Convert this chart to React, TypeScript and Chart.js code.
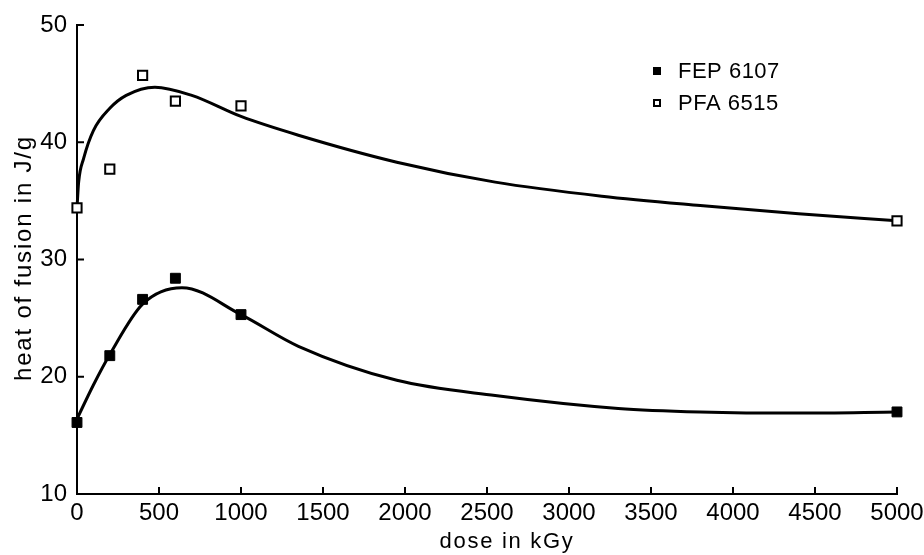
import React, { useEffect, useRef } from "react";
import { Chart, registerables } from "chart.js";

Chart.register(...registerables);

// Measured samples (dose in kGy, heat of fusion in J/g)
const doses = [0, 200, 400, 600, 1000, 5000];
const fep6107 = [16.1, 21.8, 26.6, 28.4, 25.3, 17.0];
const pfa6515 = [34.4, 37.7, 45.7, 43.5, 43.1, 33.3];

// Fitted trend curves
const fepFitDoses = [0, 100, 200, 400, 640, 1000, 1350, 1950, 2550, 3300, 3800, 4400, 5000];
const fepFit = [16.4, 19.3, 21.9, 26.2, 27.6, 25.3, 22.6, 19.7, 18.4, 17.3, 17.0, 16.9, 17.0];
const pfaFitDoses = [0, 10, 40, 100, 200, 300, 475, 700, 1000, 1350, 1950, 2550, 3200, 3800, 4400, 5000];
const pfaFit = [34.4, 36.6, 38.6, 41.0, 42.9, 44.0, 44.7, 44.0, 42.2, 40.6, 38.3, 36.6, 35.4, 34.6, 33.9, 33.3];

const xTitle = "dose in kGy";
const yTitle = "heat of fusion in J/g";

const FONT = "'Liberation Sans', sans-serif";
const TICK_SIZE = 24;

const zip = (xs: number[], ys: number[]) => xs.map((x, i) => ({ x, y: ys[i] }));

// Inward tick marks, spaced axis titles and a compact legend
const decorations = {
  id: "decorations",
  afterDraw(chart: any) {
    const ctx = chart.ctx;
    const { x, y } = chart.scales;
    const area = chart.chartArea;
    ctx.save();
    ctx.strokeStyle = "#000";
    ctx.lineWidth = 2;
    ctx.beginPath();
    x.ticks.forEach((t: any) => {
      const px = x.getPixelForValue(t.value);
      ctx.moveTo(px, area.bottom);
      ctx.lineTo(px, area.bottom - 7);
    });
    y.ticks.forEach((t: any) => {
      const py = y.getPixelForValue(t.value);
      ctx.moveTo(area.left, py);
      ctx.lineTo(area.left + 7, py);
    });
    ctx.stroke();

    ctx.fillStyle = "#000";

    // axis titles
    ctx.textAlign = "center";
    ctx.textBaseline = "alphabetic";
    ctx.font = `22px ${FONT}`;
    ctx.letterSpacing = "1.7px";
    ctx.fillText(xTitle, 507, 548);
    ctx.save();
    ctx.translate(31, 258);
    ctx.rotate(-Math.PI / 2);
    ctx.font = `24px ${FONT}`;
    ctx.letterSpacing = "1.8px";
    ctx.fillText(yTitle, 0, 0);
    ctx.restore();

    // legend
    ctx.font = `22px ${FONT}`;
    ctx.letterSpacing = "0.5px";
    ctx.textAlign = "left";
    ctx.textBaseline = "middle";
    const items = chart.data.datasets.filter((d: any) => d.legend);
    const lx = 657;
    let ly = 71;
    items.forEach((d: any) => {
      const s = 8;
      ctx.lineWidth = 2;
      if (d.backgroundColor === "#000") {
        ctx.fillRect(lx - s / 2, ly - s / 2, s, s);
      } else {
        ctx.strokeRect(lx - s / 2 + 1, ly - s / 2 + 1, s - 2, s - 2);
      }
      ctx.fillText(d.label, lx + 21, ly + 1);
      ly += 32;
    });
    ctx.restore();
  },
};

export default function App() {
  const ref = useRef<HTMLCanvasElement>(null);

  useEffect(() => {
    if (!ref.current) return;
    const chart = new Chart(ref.current, {
      type: "scatter",
      data: {
        datasets: [
          {
            label: "FEP 6107",
            legend: true,
            data: zip(doses, fep6107),
            pointStyle: "rect",
            pointRadius: 7,
            backgroundColor: "#000",
            borderColor: "#000",
            borderWidth: 1,
            showLine: false,
            clip: false,
          } as any,
          {
            label: "PFA 6515",
            legend: true,
            data: zip(doses, pfa6515),
            pointStyle: "rect",
            pointRadius: 6.5,
            backgroundColor: "#fff",
            borderColor: "#000",
            borderWidth: 2,
            showLine: false,
            clip: false,
          } as any,
          {
            label: "FEP fit",
            data: zip(fepFitDoses, fepFit),
            showLine: true,
            pointRadius: 0,
            borderColor: "#000",
            borderWidth: 3,
            cubicInterpolationMode: "monotone",
            clip: false,
          },
          {
            label: "PFA fit",
            data: zip(pfaFitDoses, pfaFit),
            showLine: true,
            pointRadius: 0,
            borderColor: "#000",
            borderWidth: 3,
            cubicInterpolationMode: "monotone",
            clip: false,
          },
        ],
      },
      options: {
        animation: false,
        responsive: true,
        maintainAspectRatio: false,
        layout: { padding: { top: 25, right: 27, left: 0, bottom: 0 } },
        plugins: { legend: { display: false }, tooltip: { enabled: false } },
        scales: {
          x: {
            type: "linear",
            min: 0,
            max: 5000,
            grid: { display: false, drawTicks: false },
            border: { display: true, color: "#000", width: 2 },
            ticks: {
              stepSize: 500,
              color: "#000",
              font: { family: FONT, size: TICK_SIZE },
              padding: 5,
              maxRotation: 0,
              callback: (v: any) => String(v),
            },
            afterFit: (s: any) => {
              s.height = 61;
              s.paddingLeft = 0;
              s.paddingRight = 0;
            },
          },
          y: {
            type: "linear",
            min: 10,
            max: 50,
            grid: { display: false, drawTicks: false },
            border: { display: true, color: "#000", width: 2 },
            ticks: {
              stepSize: 10,
              color: "#000",
              font: { family: FONT, size: TICK_SIZE },
              padding: 10,
              callback: (v: any) => String(v),
            },
            afterFit: (s: any) => {
              s.width = 77;
              s.paddingTop = 0;
              s.paddingBottom = 0;
            },
          },
        },
      },
      plugins: [decorations],
    });
    return () => chart.destroy();
  }, []);

  return (
    <div style={{ position: "fixed", left: 0, top: 0, width: 924, height: 555, background: "#fff" }}>
      <canvas ref={ref} />
    </div>
  );
}
